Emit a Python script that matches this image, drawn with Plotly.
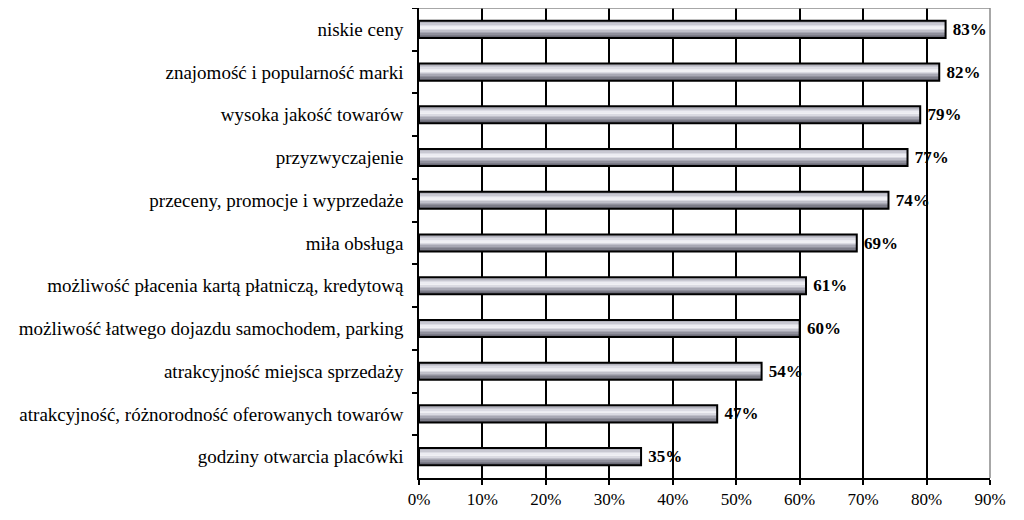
import plotly.graph_objects as go

categories = [
    "niskie ceny",
    "znajomość i popularność marki",
    "wysoka jakość towarów",
    "przyzwyczajenie",
    "przeceny, promocje i wyprzedaże",
    "miła obsługa",
    "możliwość płacenia kartą płatniczą, kredytową",
    "możliwość łatwego dojazdu samochodem, parking",
    "atrakcyjność miejsca sprzedaży",
    "atrakcyjność, różnorodność oferowanych towarów",
    "godziny otwarcia placówki",
]
values = [83, 82, 79, 77, 74, 69, 61, 60, 54, 47, 35]
x_ticks = [0, 10, 20, 30, 40, 50, 60, 70, 80, 90]
x_tick_labels = [f"{t}%" for t in x_ticks]

# vertical shading of the cylinder-like bars, top -> bottom
shade = ["#a4a4b0", "#b4b4be", "#c8c8d2", "#dcdce4", "#ececf2", "#f0f0f4",
         "#dadae2", "#c0c0ca", "#a8a8b4", "#90909c", "#7c7c88", "#6c6c78"]

BAR_W = 0.4
fig = go.Figure()
n = len(shade)
sw = BAR_W / n
for i, c in enumerate(shade):
    fig.add_trace(go.Bar(
        y=categories, x=values, orientation="h",
        width=sw * 1.1, offset=-BAR_W / 2 + i * sw,
        marker=dict(color=c, line=dict(width=0)),
        hoverinfo="skip", showlegend=False,
    ))
# outline + labels
fig.add_trace(go.Bar(
    y=categories, x=values, orientation="h",
    width=BAR_W, offset=-BAR_W / 2,
    marker=dict(color="rgba(0,0,0,0)", line=dict(color="black", width=2)),
    text=[f"\u00a0<b>{v}%</b>" for v in values], textposition="outside",
    constraintext="none",
    textfont=dict(family="Liberation Serif", size=17, color="black"),
    cliponaxis=False, showlegend=False,
))

fig.update_layout(
    width=1024, height=520,
    margin=dict(l=411, r=42, t=0, b=50),
    barmode="overlay",
    plot_bgcolor="white", paper_bgcolor="white",
    font=dict(family="Liberation Serif", size=19, color="black"),
    xaxis=dict(
        range=[0, 90], tickvals=x_ticks, ticktext=x_tick_labels,
        showgrid=True, gridcolor="black", gridwidth=1.5,
        showline=True, linecolor="black", linewidth=1.5,
        ticks="outside", ticklen=5, tickcolor="black", tickwidth=1.5,
        tickfont=dict(family="Liberation Serif", size=17),
        zeroline=False, fixedrange=True,
    ),
    yaxis=dict(
        categoryorder="array", categoryarray=categories, autorange="reversed",
        showline=True, linecolor="black", linewidth=1.5,
        ticks="outside", ticklen=5, tickcolor="black", tickwidth=1.5,
        tickson="boundaries", ticklabelstandoff=10,
        showgrid=False, fixedrange=True,
    ),
    shapes=[
        dict(type="line", xref="paper", yref="paper", x0=0, x1=1, y0=1, y1=1,
             line=dict(color="#8a8a8a", width=1.5), layer="above"),
        dict(type="line", xref="paper", yref="paper", x0=1, x1=1, y0=0, y1=1,
             line=dict(color="#8a8a8a", width=1.5), layer="below"),
    ],
)

fig.write_html("out.html")
